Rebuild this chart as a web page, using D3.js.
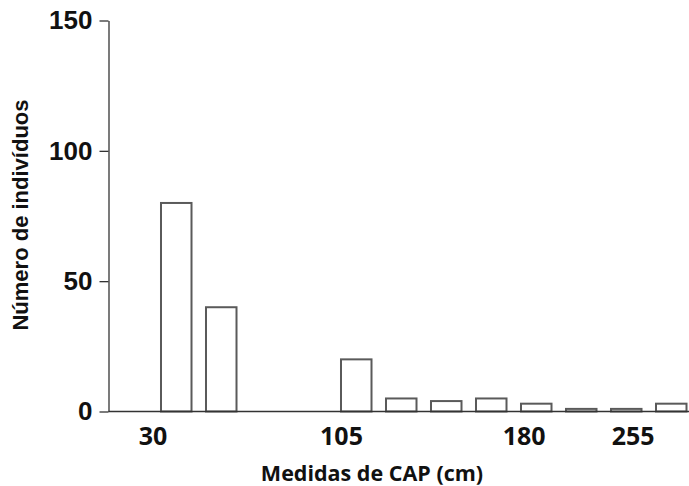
<!DOCTYPE html>
<html>
<head>
<meta charset="utf-8">
<script src="https://cdn.jsdelivr.net/npm/d3@7"></script>
<style>
  html, body { margin: 0; padding: 0; background: #fff; }
  svg { display: block; }
</style>
</head>
<body>
<svg id="chart" width="689" height="486"></svg>
<script>
// Frequency of individuals per CAP class (cm)
const bins = ["c1", "c2", "c3", "c4", "c5", "c6", "c7", "c8", "c9", "c10", "c11", "c12"];
const counts = [80, 40, 0, 0, 20, 5, 4, 5, 3, 1, 1, 3];

// Axis labelling
const yTicks = [0, 50, 100, 150];
const xTickValues = [30, 105, 180, 255];
// where each CAP label sits, measured in class slots from the first bar
const xTickSlots = [-0.19, 4.0, 8.06, 10.48];

const svg = d3.select("#chart");
const W = 689;
const axisX = 108.5;

const y = d3.scaleLinear().domain([0, 150]).range([411.5, 20.5]);

const x = d3.scaleBand()
  .domain(bins)
  .range([153.75, 693.75])
  .paddingInner(0.322)
  .paddingOuter(0.161);

// CAP value -> pixel, following the class slots of the band scale
const xCap = d3.scaleLinear()
  .domain(xTickValues)
  .range(xTickSlots.map(s => x(bins[0]) + s * x.step()));

// bars
svg.append("g")
  .selectAll("rect")
  .data(counts)
  .join("rect")
  .attr("x", (d, i) => x(bins[i]))
  .attr("y", d => y(d))
  .attr("width", x.bandwidth())
  .attr("height", d => y(0) - y(d))
  .attr("fill", "#fff")
  .attr("stroke", "#5a5a5a")
  .attr("stroke-width", 2)
  .attr("display", d => d > 0 ? null : "none");

// y axis
const yAxis = svg.append("g")
  .attr("transform", `translate(${axisX},0)`)
  .call(d3.axisLeft(y).tickValues(yTicks).tickSize(9).tickSizeOuter(0).tickPadding(7));
yAxis.selectAll("path, line").attr("stroke", "#333").attr("stroke-width", 1.3);
yAxis.selectAll("text")
  .attr("font-family", "'Liberation Sans', Arial, sans-serif")
  .attr("font-weight", "bold")
  .attr("font-size", 26)
  .attr("fill", "#111");

// baseline
svg.append("line")
  .attr("x1", axisX).attr("x2", W)
  .attr("y1", y(0)).attr("y2", y(0))
  .attr("stroke", "#333").attr("stroke-width", 1.3);

// x axis labels
const xAxis = svg.append("g")
  .attr("transform", `translate(0,${y(0)})`)
  .call(d3.axisBottom(xCap).tickValues(xTickValues).tickSize(0).tickPadding(0).tickFormat(d3.format("d")));
xAxis.select(".domain").remove();
xAxis.selectAll("text")
  .attr("dy", null)
  .attr("y", 33)
  .attr("font-family", "'Open Sans', sans-serif")
  .attr("font-weight", 700)
  .attr("font-size", 25)
  .attr("fill", "#111");

// axis titles
svg.append("text")
  .attr("x", 372).attr("y", 481)
  .attr("text-anchor", "middle")
  .attr("font-family", "'Open Sans', sans-serif")
  .attr("font-weight", 700)
  .attr("font-size", 21.5)
  .attr("fill", "#111")
  .text("Medidas de CAP (cm)");

svg.append("text")
  .attr("transform", "translate(28,215) rotate(-90)")
  .attr("text-anchor", "middle")
  .attr("font-family", "'Liberation Sans', Arial, sans-serif")
  .attr("font-weight", "bold")
  .attr("font-size", 22)
  .attr("fill", "#111")
  .text("Número de indivíduos");
</script>
</body>
</html>
